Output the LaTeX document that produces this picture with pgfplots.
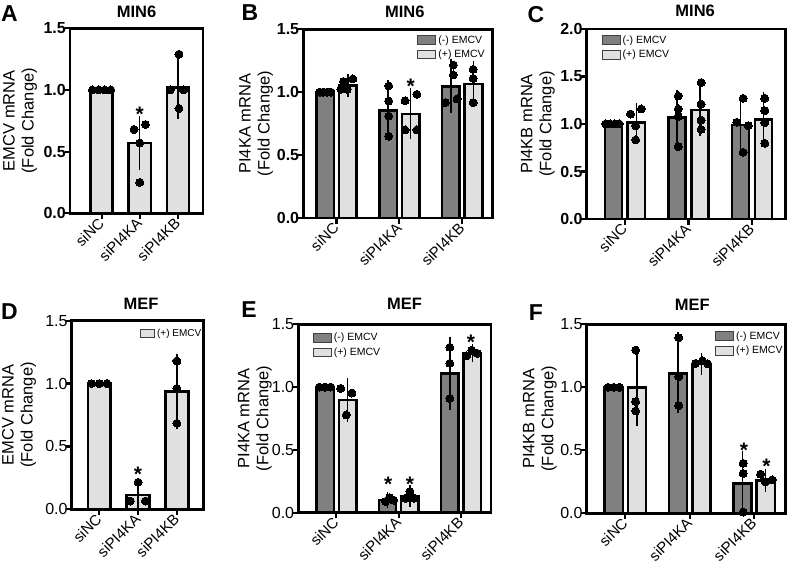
\documentclass[border=0pt]{standalone}
\usepackage{fontspec}
\setmainfont{Liberation Sans}
\usepackage{pgfplots}
\pgfplotsset{compat=1.18}

\definecolor{darkbar}{RGB}{128,128,128}
\definecolor{lightbar}{RGB}{224,224,224}

\pgfplotsset{
  panel/.style={
    scale only axis, anchor=south west, clip=false,
    axis line style={line width=2.6pt},
    tick style={line width=2.2pt, black},
    tick align=outside, major tick length=5.5pt,
    xtick pos=left, ytick pos=left,
    xtick={0,1,2}, xticklabels={siNC,siPI4KA,siPI4KB},
    x tick label style={rotate=45, anchor=east, inner sep=1.5pt, yshift=-1pt, font=\fontsize{15}{15}\selectfont},
    ymin=0,
    /pgf/number format/assume math mode=true,
    yticklabel style={/pgf/number format/fixed, /pgf/number format/fixed zerofill, /pgf/number format/precision=1, inner sep=0.5pt, xshift=2pt},
    ylabel style={align=center, font=\fontsize{16.5}{19}\selectfont, anchor=center},
    title style={font=\bfseries\fontsize{16.5}{18}\selectfont, anchor=base, at={(axis description cs:0.5,1)}},
    legend style={draw=none, fill=none, inner sep=0pt, row sep=1.5pt,
      font=\fontsize{10.5}{12}\selectfont},
    legend cell align=left,
  },
  bold ticks/.style={yticklabel style={font=\bfseries\fontsize{16}{16}\selectfont}},
  plain ticks/.style={yticklabel style={font=\fontsize{16}{16}\selectfont}},
  barstyle/.style={ybar, draw=black, line width=2.5pt, forget plot},
  errbars/.style={forget plot, draw=none, mark=none,
    error bars/.cd, y dir=both, y explicit,
    error bar style={draw=black, line width=1.4pt},
    error mark options={draw=black, line width=1.4pt, mark size=6pt}},
  dots/.style={forget plot, only marks, mark=*, mark size=4pt,
    mark options={fill=black, draw=black, line width=0pt}},
  stars/.style={forget plot, only marks, mark=text, text mark={*},
    text mark as node=true,
    text mark style={font=\bfseries\fontsize{21}{21}\selectfont, inner sep=0pt, anchor=center}},
  darkkey/.style={legend image code/.code={\draw[fill=darkbar, draw=black!75, line width=0.9pt] (0pt,-4.3pt) rectangle (18pt,4.3pt);}},
  lightkey/.style={legend image code/.code={\draw[fill=lightbar, draw=black!75, line width=0.9pt] (0pt,-4.3pt) rectangle (18pt,4.3pt);}},
}

\begin{document}
\begin{tikzpicture}
\path[use as bounding box] (0pt,0pt) rectangle (787pt,-572pt);

% ---------------- A: MIN6, EMCV mRNA ----------------
\begin{axis}[panel, bold ticks, at={(70pt,-213.3pt)}, width=133pt, height=185pt,
  xmin=-0.83, xmax=2.66, ymax=1.5, ytick={0,0.5,1,1.5},
  ylabel={EMCV mRNA\\(Fold Change)}, ylabel style={at={(axis description cs:-0.376,0.5)}},
  title={MIN6}, title style={yshift=5pt}]
\addplot[barstyle, bar width=0.58, bar shift=0, fill=lightbar] coordinates {(0,1.0) (1,0.57) (2,1.02)};
\addplot[errbars] coordinates {(1,0.57) +- (0,0.17) (2,1.02) +- (0,0.205)};
\addplot[dots] coordinates {(-0.24,1) (-0.08,1) (0.08,1) (0.24,1)
  (0.85,0.68) (1.15,0.72) (1.0,0.57) (1.0,0.25)
  (2.03,1.29) (1.8,1.0) (2.15,1.0) (2.03,0.85)};
\addplot[stars] coordinates {(1,0.80)};
\end{axis}

% ---------------- B: MIN6, PI4KA mRNA ----------------
\begin{axis}[panel, bold ticks, at={(303.3pt,-218pt)}, width=189pt, height=188.7pt,
  xmin=-0.53, xmax=2.48, ymax=1.5, ytick={0,0.5,1,1.5},
  ylabel={PI4KA mRNA\\(Fold Change)}, ylabel style={at={(axis description cs:-0.25,0.5)}},
  title={MIN6}, title style={xshift=7pt, yshift=6pt},
  legend style={at={(0.603,0.979)}, anchor=north west}]
\addlegendimage{darkkey}\addlegendentry{(-) EMCV}
\addlegendimage{lightkey}\addlegendentry{(+) EMCV}
\addplot[barstyle, bar width=0.28, bar shift=-0.18, fill=darkbar] coordinates {(0,1.0) (1,0.853) (2,1.044)};
\addplot[barstyle, bar width=0.28, bar shift=0.18, fill=lightbar] coordinates {(0,1.055) (1,0.827) (2,1.065)};
\addplot[errbars] coordinates {(0.18,1.055) +- (0,0.045) (0.82,0.87) +- (0,0.18) (1.18,0.827) +- (0,0.155)
  (1.82,1.05) +- (0,0.165) (2.18,1.065) +- (0,0.135)};
\addplot[dots] coordinates {(-0.27,1) (-0.21,1) (-0.15,1) (-0.09,1)
  (0.11,1.085) (0.26,1.106) (0.07,1.024) (0.17,1.024)
  (0.83,1.05) (0.83,0.93) (0.83,0.81) (0.83,0.65)
  (1.09,0.932) (1.28,0.983) (1.09,0.70) (1.28,0.70)
  (1.86,1.216) (1.86,1.137) (1.73,0.917) (1.92,0.946)
  (2.175,1.182) (2.175,1.11) (2.175,0.917)};
\addplot[stars] coordinates {(1.18,1.05)};
\end{axis}

% ---------------- C: MIN6, PI4KB mRNA ----------------
\begin{axis}[panel, bold ticks, at={(586.7pt,-219pt)}, width=199pt, height=190pt,
  xmin=-0.6, xmax=2.53, ymax=2.0, ytick={0,0.5,1,1.5,2},
  ylabel={PI4KB mRNA\\(Fold Change)}, ylabel style={at={(axis description cs:-0.245,0.5)}},
  title={MIN6}, title style={xshift=9pt, yshift=6pt},
  legend style={at={(0.075,0.977)}, anchor=north west}]
\addlegendimage{darkkey}\addlegendentry{(-) EMCV}
\addlegendimage{lightkey}\addlegendentry{(+) EMCV}
\addplot[barstyle, bar width=0.27, bar shift=-0.18, fill=darkbar] coordinates {(0,1.0) (1,1.067) (2,0.989)};
\addplot[barstyle, bar width=0.27, bar shift=0.18, fill=lightbar] coordinates {(0,1.018) (1,1.147) (2,1.049)};
\addplot[errbars] coordinates {(0.18,1.018) +- (0,0.14) (0.82,1.07) +- (0,0.225) (1.18,1.147) +- (0,0.215)
  (1.82,0.99) +- (0,0.235) (2.18,1.06) +- (0,0.215)};
\addplot[dots] coordinates {(-0.3,1) (-0.23,1) (-0.16,1) (-0.09,1)
  (0.09,1.105) (0.26,1.158) (0.17,0.982) (0.17,0.832)
  (0.84,1.295) (0.84,1.158) (0.84,1.077) (0.84,0.761)
  (1.2,1.435) (1.2,1.21) (1.2,1.042) (1.2,0.944)
  (1.86,1.27) (1.76,1.018) (1.94,0.982) (1.86,0.702)
  (2.2,1.27) (2.2,1.14) (2.2,1.014) (2.2,0.797)};
\end{axis}

% ---------------- D: MEF, EMCV mRNA ----------------
\begin{axis}[panel, plain ticks, at={(71.7pt,-509.3pt)}, width=131.6pt, height=188.6pt,
  xmin=-0.71, xmax=2.68, ymax=1.5, ytick={0,0.5,1,1.5},
  ylabel={EMCV mRNA\\(Fold Change)}, ylabel style={at={(axis description cs:-0.40,0.5)}},
  title={MEF}, title style={xshift=3.5pt, yshift=5.7pt},
  legend style={at={(0.519,0.965)}, anchor=north west, font=\fontsize{10}{11}\selectfont}]
\addlegendimage{legend image code/.code={\draw[fill=lightbar, draw=black!75, line width=0.9pt] (0pt,-4pt) rectangle (14pt,4pt);}}
\addlegendentry{(+) EMCV}
\addplot[barstyle, bar width=0.59, bar shift=0, fill=lightbar] coordinates {(0,1.0) (1,0.114) (2,0.936)};
\addplot[errbars] coordinates {(1,0.114) +- (0,0.085) (2,0.936) +- (0,0.25)};
\addplot[dots] coordinates {(-0.2,1) (0,1) (0.2,1)
  (1,0.215) (0.8,0.066) (1.19,0.066)
  (2,1.18) (2,0.962) (2,0.684)};
\addplot[stars] coordinates {(1,0.28)};
\end{axis}

% ---------------- E: MEF, PI4KA mRNA ----------------
\begin{axis}[panel, plain ticks, at={(298.3pt,-512.7pt)}, width=192.7pt, height=188.4pt,
  xmin=-0.61, xmax=2.48, ymax=1.5, ytick={0,0.5,1,1.5},
  ylabel={PI4KA mRNA\\(Fold Change)}, ylabel style={at={(axis description cs:-0.225,0.5)}},
  title={MEF}, title style={xshift=10pt, yshift=9pt},
  legend style={at={(0.075,0.964)}, anchor=north west}]
\addlegendimage{darkkey}\addlegendentry{(-) EMCV}
\addlegendimage{lightkey}\addlegendentry{(+) EMCV}
\addplot[barstyle, bar width=0.28, bar shift=-0.18, fill=darkbar] coordinates {(0,1.0) (1,0.10) (2,1.11)};
\addplot[barstyle, bar width=0.28, bar shift=0.18, fill=lightbar] coordinates {(0,0.897) (1,0.13) (2,1.269)};
\addplot[errbars] coordinates {(0.18,0.897) +- (0,0.125) (0.82,0.10) +- (0,0.015) (1.18,0.13) +- (0,0.04)
  (1.82,1.11) +- (0,0.245) (2.18,1.269) +- (0,0.025)};
\addplot[dots] coordinates {(-0.27,1) (-0.18,1) (-0.09,1)
  (0.07,0.99) (0.25,0.953) (0.16,0.778)
  (0.79,0.09) (0.85,0.12) (0.92,0.10)
  (1.18,0.17) (1.11,0.115) (1.25,0.115)
  (1.82,1.317) (1.82,1.19) (1.82,0.91)
  (2.09,1.248) (2.17,1.295) (2.26,1.269)};
\addplot[stars] coordinates {(0.83,0.225) (1.18,0.225) (2.16,1.36)};
\end{axis}

% ---------------- F: MEF, PI4KB mRNA ----------------
\begin{axis}[panel, plain ticks, at={(586.7pt,-513.3pt)}, width=199pt, height=189pt,
  xmin=-0.6, xmax=2.49, ymax=1.5, ytick={0,0.5,1,1.5},
  ylabel={PI4KB mRNA\\(Fold Change)}, ylabel style={at={(axis description cs:-0.235,0.5)}},
  title={MEF}, title style={xshift=6pt, yshift=7.6pt},
  legend style={at={(0.645,0.973)}, anchor=north west}]
\addlegendimage{darkkey}\addlegendentry{(-) EMCV}
\addlegendimage{lightkey}\addlegendentry{(+) EMCV}
\addplot[barstyle, bar width=0.28, bar shift=-0.18, fill=darkbar] coordinates {(0,1.0) (1,1.111) (2,0.238)};
\addplot[barstyle, bar width=0.28, bar shift=0.18, fill=lightbar] coordinates {(0,0.997) (1,1.183) (2,0.26)};
\addplot[errbars] coordinates {(0.18,0.997) +- (0,0.26) (0.82,1.12) +- (0,0.275) (1.18,1.183) +- (0,0.04)
  (1.82,0.238) +- (0,0.205) (2.18,0.26) +- (0,0.045)};
\addplot[dots] coordinates {(-0.27,1) (-0.18,1) (-0.09,1)
  (0.16,1.296) (0.16,0.886) (0.16,0.812)
  (0.83,1.394) (0.83,1.085) (0.83,0.854)
  (1.09,1.19) (1.2,1.21) (1.28,1.185)
  (1.83,0.397) (1.83,0.317) (1.83,0.01)
  (2.1,0.31) (2.17,0.25) (2.28,0.265)};
\addplot[stars] coordinates {(1.84,0.50) (2.19,0.37)};
\end{axis}

% panel letters
\node[font=\bfseries\fontsize{23}{23}\selectfont] at (9.5pt,-14pt) {A};
\node[font=\bfseries\fontsize{23}{23}\selectfont] at (250pt,-13pt) {B};
\node[font=\bfseries\fontsize{23}{23}\selectfont] at (536pt,-15pt) {C};
\node[font=\bfseries\fontsize{23}{23}\selectfont] at (9.5pt,-312pt) {D};
\node[font=\bfseries\fontsize{23}{23}\selectfont] at (249pt,-310pt) {E};
\node[font=\bfseries\fontsize{23}{23}\selectfont] at (536pt,-313pt) {F};
\end{tikzpicture}
\end{document}
